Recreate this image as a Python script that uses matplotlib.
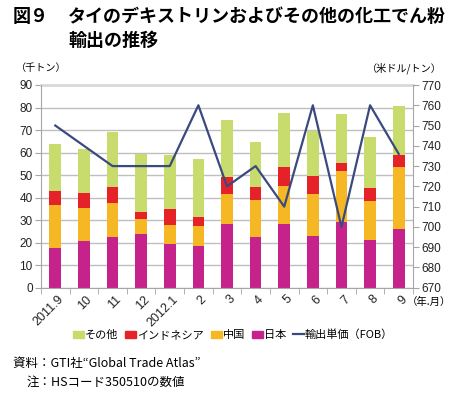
import numpy as np
import matplotlib
matplotlib.use("Agg")
import matplotlib.pyplot as plt
import matplotlib.transforms as mtransforms
from matplotlib.patches import Patch
from matplotlib.lines import Line2D

plt.rcParams['font.family'] = ['Noto Sans CJK JP', 'DejaVu Sans']

months = ["2011.9", "10", "11", "12", "2012.1", "2", "3", "4", "5", "6", "7", "8", "9"]
# cumulative tops (thousand tons)
japan_top = [17.5, 20.9, 22.7, 23.7, 19.3, 18.5, 28.3, 22.6, 28.2, 23.0, 29.1, 21.4, 26.1]
china_top = [36.7, 35.3, 37.7, 30.7, 28.0, 27.4, 41.8, 38.9, 45.3, 41.7, 51.8, 38.6, 53.4]
indo_top = [42.9, 42.1, 44.8, 33.8, 35.0, 31.6, 49.0, 44.8, 53.6, 49.4, 55.3, 44.1, 58.9]
total = [63.6, 61.6, 69.3, 59.5, 58.9, 57.3, 74.5, 64.7, 77.7, 69.7, 77.0, 66.9, 80.7]
unit_price = [750, 740, 730, 730, 730, 760, 720, 730, 710, 760, 700, 760, 736]

japan = np.array(japan_top)
china = np.array(china_top) - np.array(japan_top)
indo = np.array(indo_top) - np.array(china_top)
other = np.array(total) - np.array(indo_top)

c_other = "#c8dc6e"
c_indo = "#e52228"
c_china = "#f5b824"
c_japan = "#c5238b"
c_line = "#3b4a7e"
grid_c = "#bfbfbf"

W, H = 461, 395
fig = plt.figure(figsize=(W / 100, H / 100), dpi=100)
ax = fig.add_axes([41 / W, 1 - 287.7 / H, (413 - 41) / W, (287.7 - 85) / H])
x = np.arange(len(months))
bw = 0.41
ax.bar(x, japan, bw, color=c_japan, zorder=2)
ax.bar(x, china, bw, bottom=japan, color=c_china, zorder=2)
ax.bar(x, indo, bw, bottom=japan + china, color=c_indo, zorder=2)
ax.bar(x, other, bw, bottom=japan + china + indo, color=c_other, zorder=2)

ax.set_xlim(-0.5, len(months) - 0.5)
ax.set_ylim(0, 90)
ax.set_yticks(range(0, 91, 10))
ax.yaxis.grid(True, color=grid_c, lw=1, zorder=0)
ax.set_axisbelow(True)
for s in ["top", "right"]:
    ax.spines[s].set_visible(False)
for s in ["left", "bottom"]:
    ax.spines[s].set_color("#a6a6a6")
ax.tick_params(axis="y", colors="#a6a6a6", length=4, labelcolor="#222222", labelsize=8.5, pad=2)
ax.set_xticks(x)
ax.set_xticklabels(months, rotation=45, ha="right", va="top", rotation_mode="anchor",
                   fontsize=9, color="#222222", family="Liberation Sans")
ax.tick_params(axis="x", length=0, pad=4)
shift = mtransforms.ScaledTranslation(2 / 100, 0, fig.dpi_scale_trans)
for lab in ax.get_xticklabels():
    lab.set_transform(lab.get_transform() + shift)
ax.set_xticks(np.arange(-0.5, len(months), 1), minor=True)
ax.tick_params(axis="x", which="minor", length=4, color="#a6a6a6")
for lab in ax.get_yticklabels():
    lab.set_family("Liberation Sans")

ax2 = ax.twinx()
ax2.plot(x, unit_price, color=c_line, lw=1.6, zorder=3)
ax2.set_ylim(670, 770)
ax2.set_yticks(range(670, 771, 10))
for s in ["top", "left", "bottom"]:
    ax2.spines[s].set_visible(False)
ax2.spines["right"].set_color("#a6a6a6")
ax2.tick_params(axis="y", colors="#a6a6a6", length=4, labelcolor="#222222", labelsize=8.5, pad=2)
for lab in ax2.get_yticklabels():
    lab.set_family("Liberation Sans")
ax.plot([-0.5, len(months) - 0.5], [90, 90], color="#d9d9d9", lw=2, clip_on=False, zorder=1)

fig.text(13 / W, 1 - 17 / H, "図９", fontsize=13, fontweight="bold", va="center", ha="left")
fig.text(68 / W, 1 - 17 / H, "タイのデキストリンおよびその他の化工でん粉",
         fontsize=13, fontweight="bold", va="center", ha="left")
fig.text(68 / W, 1 - 40 / H, "輸出の推移", fontsize=13, fontweight="bold", va="center", ha="left")

fig.text(16 / W, 1 - 68 / H, "（千トン）", fontsize=7.3, va="center", ha="left")
fig.text(442 / W, 1 - 68 / H, "（米ドル/トン）", fontsize=7.3, va="center", ha="right")
fig.text(407 / W, 1 - 302 / H, "（年.月）", fontsize=7.5, va="center", ha="left")

handles = [Patch(color=c_other), Patch(color=c_indo), Patch(color=c_china), Patch(color=c_japan),
           Line2D([], [], color=c_line, lw=1.6)]
labels = ["その他", "インドネシア", "中国", "日本", "輸出単価（FOB）"]
fig.legend(handles, labels, loc="center", bbox_to_anchor=(233 / W, 1 - 335 / H), ncol=5,
           frameon=False, fontsize=8, handlelength=1.0, handleheight=0.7, handletextpad=0.1,
           columnspacing=0.6, borderpad=0)

fig.text(13 / W, 1 - 363 / H, "資料：GTI社“Global Trade Atlas”", fontsize=9, va="center", ha="left")
fig.text(27 / W, 1 - 382 / H, "注：HSコード350510の数値", fontsize=9, va="center", ha="left")

fig.savefig("out.png", dpi=100)
